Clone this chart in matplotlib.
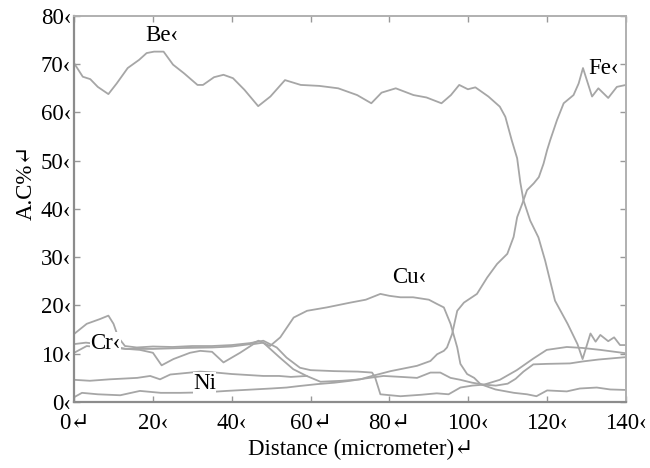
import matplotlib
matplotlib.use('Agg')
from matplotlib import pyplot as plt

# line profiles (distance in micrometer, A.C %)
be_x = [0, 2.2, 4.1, 6, 8.7, 10.8, 13.6, 16.5, 18.4, 20.3, 22.7, 25.1, 27.9, 31.3, 32.7,
        35.5, 37.9, 40.3, 43.2, 46.7, 49.8, 53.5, 57.5, 62.2, 67, 71.8, 75.4, 78, 81.6,
        86.1, 89.4, 93.2, 95.6, 97.7, 99.9, 101.8, 105.1, 108, 109.4, 111, 112.4, 113.2,
        114, 115.7, 117.8, 119.5, 122, 125.2, 127.7, 129, 131, 132.3, 133.5, 135.5, 137,
        138.5, 140]
be_y = [70.2, 67.4, 66.9, 65.3, 63.8, 66, 69.2, 70.9, 72.3, 72.6, 72.6, 69.9, 68.1, 65.7,
        65.7, 67.3, 67.8, 67.1, 64.7, 61.3, 63.3, 66.7, 65.7, 65.5, 65, 63.6, 61.9, 64.1,
        65, 63.6, 63.1, 61.9, 63.6, 65.7, 64.8, 65.2, 63.3, 61.2, 59.1, 54.3, 50.5, 45.5,
        41.8, 37.6, 34.1, 29.3, 21, 16.2, 12, 8.9, 14.2, 12.5, 13.9, 12.6, 13.4, 11.8, 11.8]

fe_x = [0, 3.2, 8, 12, 16.7, 20, 22.2, 25.2, 29.4, 32, 35, 37.9, 42.1, 45.5, 48, 52.2,
        55.6, 59, 62.5, 68, 72.6, 75.6, 80.3, 87, 90.4, 92.1, 93.8, 94.6, 95.9, 97.2,
        98.9, 102.2, 104.8, 107.3, 109.9, 111.5, 112.4, 113.7, 114.9, 116.6, 117.9,
        119.1, 120, 120.8, 122.5, 124.2, 126.7, 128, 129.1, 131.4, 133, 135.5, 137.7, 140]
fe_y = [10.2, 11.6, 11.2, 11.1, 10.8, 10.2, 7.6, 8.9, 10.2, 10.6, 10.4, 8.2, 10.2, 12,
        12.3, 9.2, 6.8, 5.4, 4.2, 4.4, 4.7, 5.4, 6.4, 7.5, 8.5, 9.9, 10.6, 11.3, 14.1,
        18.9, 20.6, 22.4, 25.8, 28.6, 30.7, 34.2, 38.3, 41.1, 43.9, 45.3, 46.6, 49.4,
        52.2, 54.3, 58.4, 61.9, 63.6, 66, 69.2, 63.3, 65, 63, 65.3, 65.7]

cu_x = [0, 3, 8, 13, 20, 28, 35, 40, 44.7, 46.8, 49.7, 52.3, 55.7, 59.1, 64.1, 70.1, 74,
        77.7, 80, 82.8, 86, 90, 92.1, 93.8, 95.5, 97.2, 98, 99.7, 101.5, 103.1, 106.9,
        111.6, 114.9, 117.3, 120, 125, 128.3, 132.6, 136, 140]
cu_y = [12.0, 12.3, 11.8, 11.0, 11.0, 11.2, 11.3, 11.5, 12, 12.7, 11.6, 13.4, 17.5, 18.9,
        19.6, 20.6, 21.2, 22.4, 22.0, 21.7, 21.7, 21.2, 20.3, 19.6, 16.2, 11.3, 7.9, 5.8,
        5.0, 3.7, 2.6, 1.9, 1.6, 1.2, 2.4, 2.2, 2.8, 3.0, 2.6, 2.5]

cr_x = [0, 3.2, 6.6, 8.7, 10, 11.2, 12.9, 15.9, 20, 25, 30, 35, 40, 44.6, 48, 51.4,
        53.9, 57.3, 60, 66, 72, 75.6, 76.4, 77.7, 82.8, 88, 92, 95, 98, 101, 104, 108,
        112.3, 116.5, 119.9, 125, 129, 133.5, 140]
cr_y = [14.1, 16.2, 17.2, 17.9, 16.2, 13.4, 11.6, 11.3, 11.5, 11.4, 11.6, 11.6, 11.8,
        12.2, 12.7, 11.3, 9.2, 7.1, 6.6, 6.4, 6.3, 6.1, 5.0, 1.6, 1.2, 1.5, 1.8, 1.6,
        3.0, 3.4, 3.6, 4.6, 6.6, 9.0, 10.8, 11.4, 11.2, 10.8, 10.1]

ni_x = [0, 2, 6, 11.7, 16.7, 22, 27, 33, 38.7, 45.5, 50, 53.9, 57, 61.6, 66, 70.1, 74,
        78.5, 83, 87, 90.4, 92.9, 95.5, 98, 101, 104, 107, 110, 112, 114, 116.5, 119.9,
        125.8, 129, 133, 140]
ni_y = [1.0, 1.9, 1.6, 1.4, 2.3, 1.9, 1.9, 2.0, 2.3, 2.6, 2.8, 3.0, 3.3, 3.7, 4.0, 4.4,
        4.9, 5.4, 5.2, 5.0, 6.1, 6.1, 5.0, 4.6, 4.0, 3.6, 3.4, 3.8, 4.8, 6.3, 7.8, 7.9,
        8.0, 8.4, 8.8, 9.3]

# unlabeled trace, runs into the Fe curve near 59 um
extra_x = [0, 4, 9, 16, 19.3, 21.8, 24.4, 27, 32, 36, 40, 44, 48, 52, 55, 59]
extra_y = [4.6, 4.4, 4.7, 5.0, 5.4, 4.7, 5.7, 5.9, 6.3, 6.1, 5.8, 5.6, 5.4, 5.4, 5.2, 5.4]

x_ticks = [0, 20, 40, 60, 80, 100, 120, 140]
x_labels = ['0\u21b5', '20\u2039', '40\u2039', '60\u21b5', '80\u21b5', '100\u2039',
            '120\u2039', '140\u2039']
y_ticks = [0, 10, 20, 30, 40, 50, 60, 70, 80]
y_labels = [str(v) + '\u2039' for v in y_ticks]

serif = ['Liberation Serif', 'DejaVu Serif']
plt.rcParams['font.family'] = serif
fs = 16.5

fig = plt.figure(figsize=(6.5, 4.68), dpi=100)
ax = fig.add_axes([0.114, 0.141, 0.849, 0.825])

line_col = '#a6a6a6'
for xs, ys in [(be_x, be_y), (fe_x, fe_y), (cu_x, cu_y), (cr_x, cr_y),
               (ni_x, ni_y), (extra_x, extra_y)]:
    ax.plot(xs, ys, color=line_col, lw=1.3, zorder=2)

ax.set_xlim(0, 140)
ax.set_ylim(0, 80)
ax.set_xticks(x_ticks)
ax.set_xticklabels(x_labels)
ax.set_yticks(y_ticks)
ax.set_yticklabels(y_labels)
ax.tick_params(direction='in', length=4, width=1, color='#999999', labelsize=fs,
               top=True, right=True)
ax.tick_params(axis='x', pad=8)
ax.tick_params(axis='y', pad=2)

for side in ['left', 'bottom']:
    ax.spines[side].set_color('#8c8c8c')
    ax.spines[side].set_linewidth(1.6)
for side in ['top', 'right']:
    ax.spines[side].set_color('#b0b0b0')
    ax.spines[side].set_linewidth(1.4)

ax.set_xlabel('Distance (micrometer)\u21b5', fontsize=fs, labelpad=0)
ax.xaxis.set_label_coords(0.52, -0.095)
ax.set_ylabel('A.C%\u21b5', fontsize=fs)
ax.yaxis.set_label_coords(-0.068, 0.57)

box = dict(facecolor='white', edgecolor='none', pad=0.3)
ax.text(18, 76, 'Be\u2039', fontsize=fs, va='center', zorder=3)
ax.text(130.4, 69.2, 'Fe\u2039', fontsize=fs, va='center', zorder=3)
ax.text(80.6, 25.9, 'Cu\u2039', fontsize=fs, va='center', zorder=3)
ax.text(4.1, 12.2, 'Cr\u2039', fontsize=fs, va='center', zorder=3, bbox=box)
ax.text(30.2, 3.9, 'Ni', fontsize=fs, va='center', zorder=3, bbox=box)

fig.savefig('out.png', dpi=100)
